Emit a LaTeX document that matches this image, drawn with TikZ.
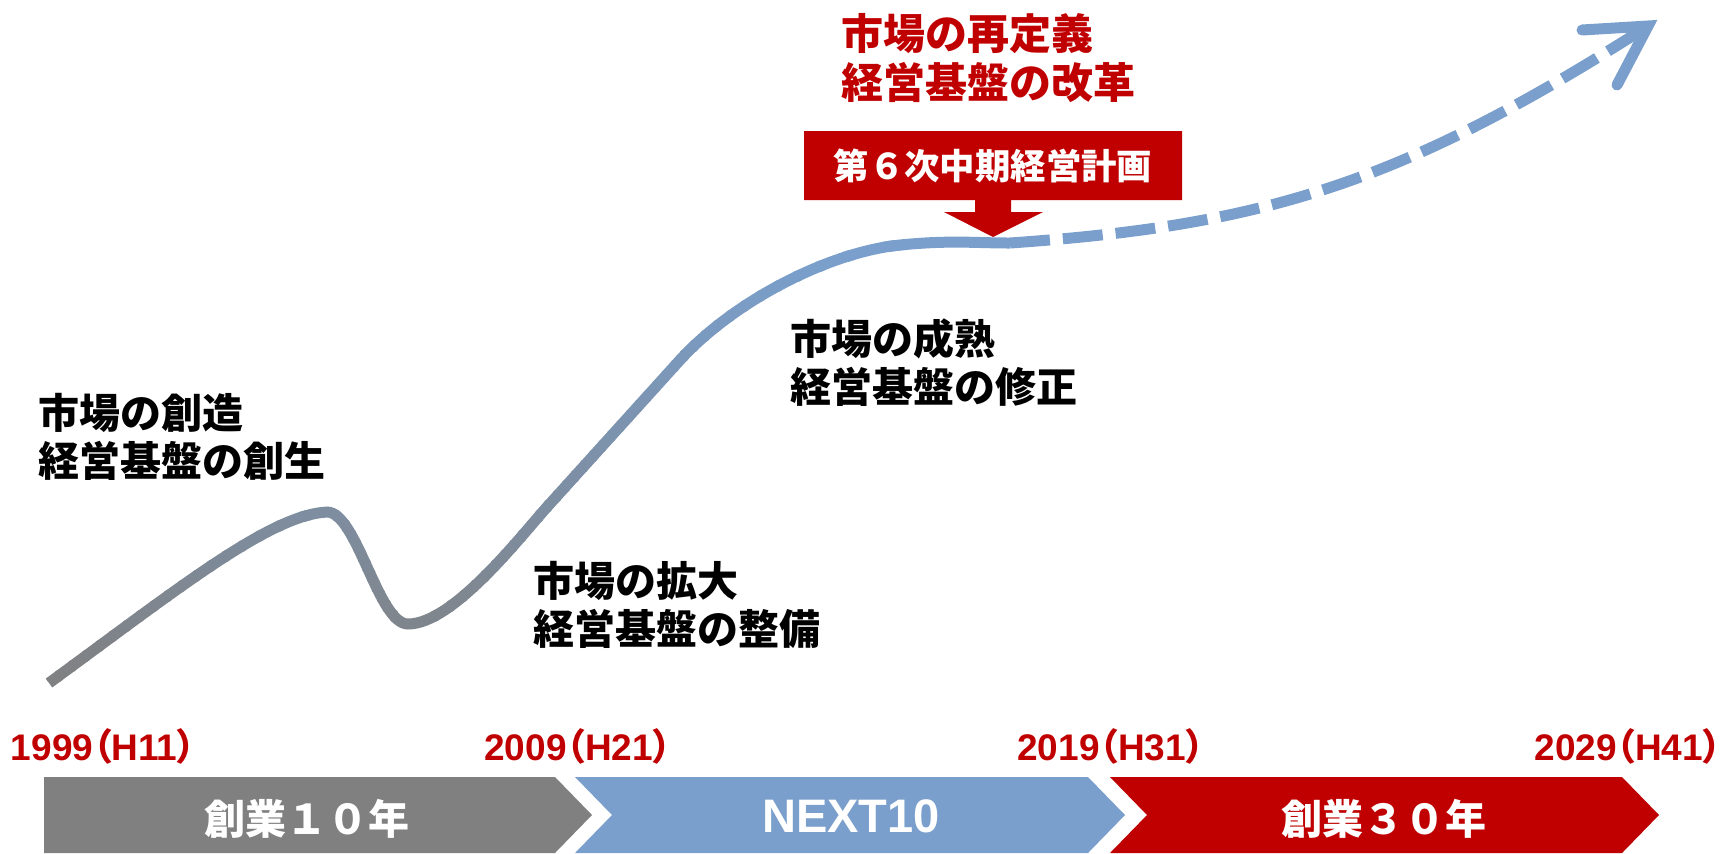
\documentclass[tikz,border=0pt]{standalone}
\usepackage{fontspec}
\setmainfont{Liberation Sans}
\newfontfamily\cjk{Noto Sans CJK JP}
\newfontfamily\cjkp{Noto Sans CJK JP}[RawFeature=+palt]
\definecolor{jred}{RGB}{192,0,0}
\definecolor{jgray}{RGB}{128,128,128}
\definecolor{jblue}{RGB}{122,159,204}
\definecolor{cgray}{RGB}{128,128,128}
\def\maincurve{(49,683) .. controls (179,588) and (270,515) .. (327,512) .. controls (357,512) and (378,624) .. (408,624) .. controls (453,624) and (520,537) .. (547,507) -- (680,360) .. controls (735,300) and (830,252) .. (900,245) .. controls (950,240) and (975,243) .. (1010,243)}
\begin{document}
\begin{tikzpicture}[x=0.5pt,y=-0.5pt,
  lbl/.style={anchor=north west, inner sep=0pt, align=left, text=black,
    font=\cjk\bfseries\fontsize{20.5}{24}\selectfont},
  title/.style={lbl, text=jred, font=\cjk\bfseries\fontsize{21}{24.5}\selectfont},
  year/.style={anchor=base, inner sep=0pt, text=jred, font=\bfseries\fontsize{18.5}{20}\selectfont},
  barcjk/.style={anchor=base, inner sep=0pt, text=white, font=\cjk\bfseries\fontsize{20.5}{22}\selectfont},
  barlat/.style={anchor=base, inner sep=0pt, text=white, font=\bfseries\fontsize{23.5}{25}\selectfont},
  curveline/.style={line width=5.5pt},
  dashline/.style={line width=5.5pt, draw=jblue, dash pattern=on 20pt off 6.5pt},
  headline/.style={line width=5.5pt, draw=jblue, line cap=round, line join=miter, miter limit=10},
  planbox/.style={anchor=base, inner sep=0pt, text=white, font=\cjk\bfseries\fontsize{17.7}{20}\selectfont}]
\useasboundingbox (0,0) rectangle (1734,853);

% main growth curve with vertical gradient (gray bottom, blue top)
\foreach \k in {0,...,49} {
  \pgfmathsetmacro\ya{200+\k*10}
  \pgfmathsetmacro\yb{\ya+11}
  \pgfmathtruncatemacro\pc{max(0,min(100,(\ya+5-260)/430*100))}
  \colorlet{bandc}{cgray!\pc!jblue}
  \begin{scope}
    \clip (0,\ya) rectangle (1734,\yb);
    \draw[curveline, draw=bandc] \maincurve;
  \end{scope}
}
\coordinate (cEnd) at (1010,243);
\coordinate (hVertex) at (1648,26);
\coordinate (hUp) at (1582,30);
\coordinate (hLow) at (1617,85);
\draw[dashline] (cEnd) .. controls (1260,225.5) and (1398,186) .. (hVertex);
\draw[headline] (hUp) -- (hVertex) -- (hLow);

% callout
\fill[jred] (804,131) -- (1182,131) -- (1182,200) -- (1011,200) -- (1011,212) -- (1043,212) -- (993,237) -- (944,212) -- (975,212) -- (975,200) -- (804,200) -- cycle;
\node[planbox] (plan) at (993,179) {第６次中期経営計画};

% labels
\node[title] (lD) at (841,13) {市場の再定義\\経営基盤の改革};
\node[lbl] (lA) at (38,393) {市場の創造\\経営基盤の創生};
\node[lbl] (lB) at (533,561) {市場の拡大\\経営基盤の整備};
\node[lbl] (lC) at (790,318) {市場の成熟\\経営基盤の修正};

% years
\node[year] (y1) at (103.5,760) {1999{\cjkp （}H11{\cjkp ）}};
\node[year] (y2) at (578,760) {2009{\cjkp （}H21{\cjkp ）}};
\node[year] (y3) at (1111,760) {2019{\cjkp （}H31{\cjkp ）}};
\node[year] (y4) at (1628,760) {2029{\cjkp （}H41{\cjkp ）}};

% chevrons
\fill[jgray] (44,777) -- (555,777) -- (592,815) -- (555,853) -- (44,853) -- cycle;
\fill[jblue] (575,777) -- (1088,777) -- (1125,815) -- (1088,853) -- (575,853) -- (612,815) -- cycle;
\fill[jred] (1110,777) -- (1622,777) -- (1659,815) -- (1622,853) -- (1110,853) -- (1147,815) -- cycle;
\node[barcjk] (b1) at (307,834) {創業１０年};
\node[barlat] (b2) at (851,832) {NEXT10};
\node[barcjk] (b3) at (1384,834) {創業３０年};
\end{tikzpicture}
\end{document}
